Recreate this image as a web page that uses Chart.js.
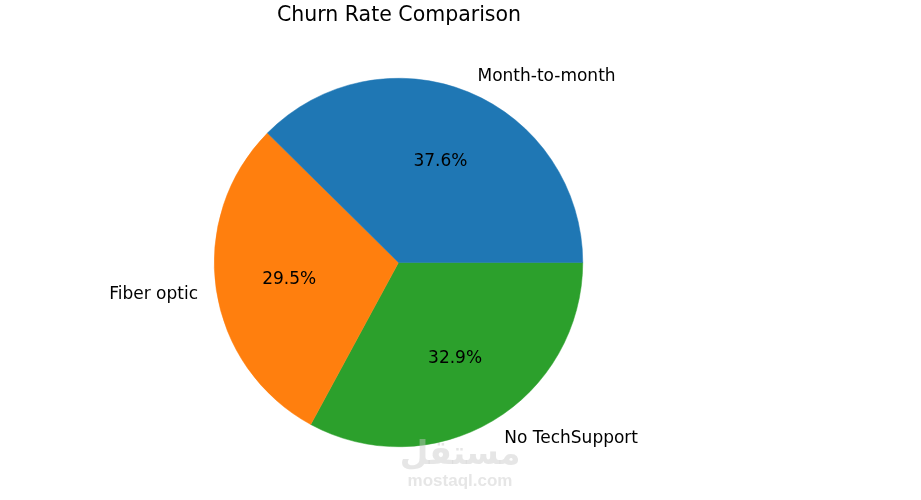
<!DOCTYPE html>
<html>
<head>
    <meta charset="UTF-8">
    <title>Churn Rate Comparison</title>
    <script src="https://cdn.jsdelivr.net/npm/chart.js@4.4.0/dist/chart.umd.min.js"></script>
    <style>
        html, body { margin: 0; padding: 0; background: #fff; }
        .chart-container { width: 921px; height: 500px; position: relative; }
    </style>
</head>
<body>
    <div class="chart-container"><canvas id="pie"></canvas></div>

    <script>
        const chartTitle = 'Churn Rate Comparison';
        const categories = ['Month-to-month', 'Fiber optic', 'No TechSupport'];
        const churnShare = [37.6, 29.5, 32.9];
        const sliceColors = ['#1f77b4', '#ff7f0e', '#2ca02c'];

        // matplotlib draws counter-clockwise from 3 o'clock, Chart.js clockwise -> reverse
        const drawLabels = categories.slice().reverse();
        const drawValues = churnShare.slice().reverse();
        const drawColors = sliceColors.slice().reverse();

        const FONT = '"DejaVu Sans", sans-serif';

        const pieText = {
            id: 'pieText',
            afterDraw(chart) {
                const ctx = chart.ctx;
                const meta = chart.getDatasetMeta(0);
                const total = drawValues.reduce((a, b) => a + b, 0);
                ctx.save();
                ctx.fillStyle = '#000';
                ctx.textBaseline = 'middle';
                meta.data.forEach((arc, i) => {
                    const p = arc.getProps(['startAngle', 'endAngle', 'x', 'y', 'outerRadius'], true);
                    const mid = (p.startAngle + p.endAngle) / 2;
                    const c = Math.cos(mid), s = Math.sin(mid);
                    // category label
                    ctx.font = '17px ' + FONT;
                    ctx.textAlign = c >= 0 ? 'left' : 'right';
                    ctx.fillText(drawLabels[i], p.x + 1.1 * p.outerRadius * c + (c >= 0 ? 2 : 0), p.y + 1.1 * p.outerRadius * s + 2);
                    // percentage
                    ctx.textAlign = 'center';
                    const pct = (drawValues[i] / total * 100).toFixed(1) + '%';
                    ctx.fillText(pct, p.x + 0.6 * p.outerRadius * c, p.y + 0.6 * p.outerRadius * s + 1);
                });
                // title
                ctx.font = '20.5px ' + FONT;
                ctx.textAlign = 'center';
                ctx.fillText(chartTitle, 399, 16);
                // watermark
                ctx.fillStyle = 'rgba(200,200,200,0.45)';
                ctx.font = 'bold 33px ' + FONT;
                ctx.fillText('مستقل', 460, 455);
                ctx.font = 'bold 17px "Liberation Sans", sans-serif';
                ctx.fillText('mostaql.com', 460, 481);
                ctx.restore();
            }
        };

        new Chart(document.getElementById('pie'), {
            type: 'pie',
            data: {
                labels: drawLabels,
                datasets: [{
                    data: drawValues,
                    backgroundColor: drawColors,
                    borderColor: drawColors,
                    borderWidth: 0.5,
                    hoverOffset: 0
                }]
            },
            options: {
                responsive: true,
                maintainAspectRatio: false,
                animation: false,
                rotation: 90,
                layout: { padding: { top: 78, left: 214, right: 338, bottom: 53 } },
                plugins: {
                    legend: { display: false },
                    title: { display: false },
                    tooltip: { enabled: false }
                }
            },
            plugins: [pieText]
        });
    </script>
</body>
</html>
